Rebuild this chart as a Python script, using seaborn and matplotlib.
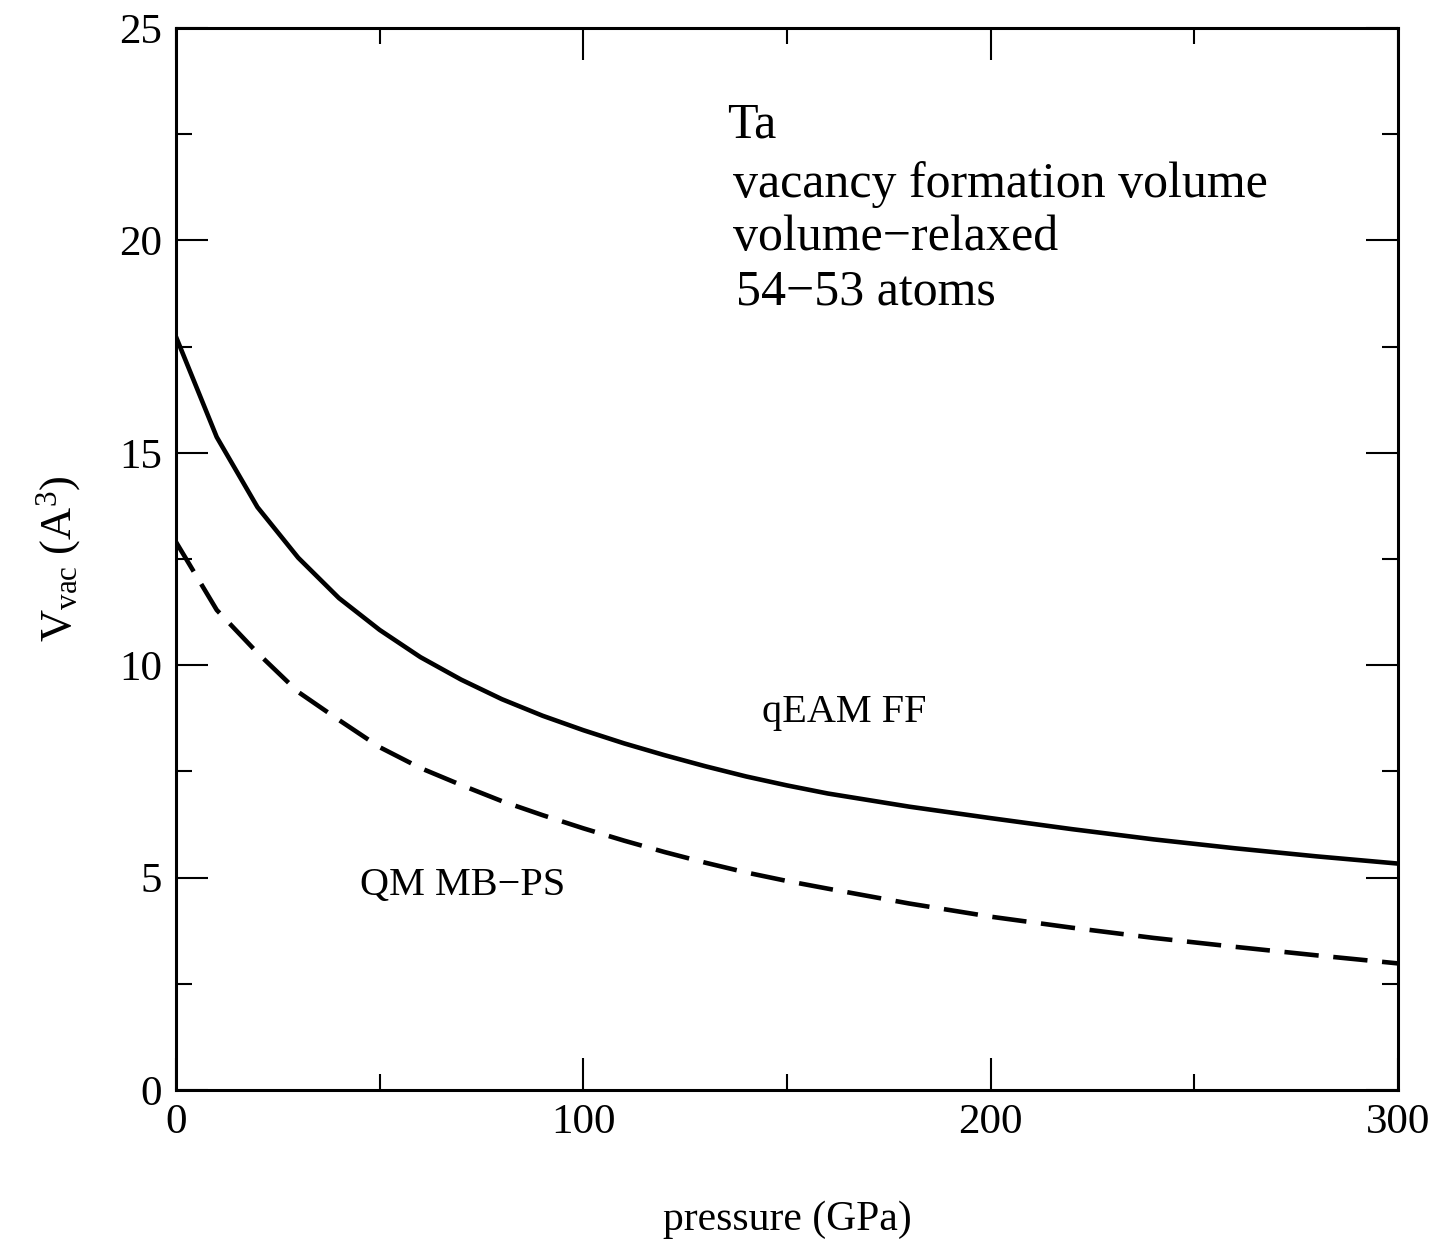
import numpy as np
import pandas as pd
import matplotlib
matplotlib.use("Agg")
import matplotlib.pyplot as plt
from matplotlib.ticker import MultipleLocator
import seaborn as sns

pressure_qeam = [0, 10, 20, 30, 40, 50, 60, 70, 80, 90, 100, 110, 120, 130, 140, 150,
                 160, 180, 200, 220, 240, 260, 280, 300]
v_qeam = [17.73, 15.37, 13.72, 12.53, 11.58, 10.83, 10.19, 9.66, 9.20, 8.81, 8.47, 8.16,
          7.88, 7.62, 7.38, 7.17, 6.98, 6.67, 6.40, 6.14, 5.90, 5.69, 5.50, 5.33]
pressure_qm = [0, 10, 20, 30, 40, 50, 60, 70, 80, 90, 100, 110, 120, 130, 140, 150,
               160, 180, 200, 220, 240, 260, 280, 300]
v_qm = [12.90, 11.30, 10.29, 9.37, 8.71, 8.07, 7.58, 7.18, 6.80, 6.47, 6.16, 5.87,
        5.60, 5.35, 5.12, 4.92, 4.74, 4.39, 4.08, 3.82, 3.58, 3.37, 3.17, 2.98]

info_lines = ["Ta", "vacancy formation volume", "volume\u2212relaxed", "54\u221253 atoms"]
label_qeam = "qEAM FF"
label_qm = "QM MB\u2212PS"

df = pd.concat([
    pd.DataFrame({"p": pressure_qeam, "v": v_qeam, "model": label_qeam}),
    pd.DataFrame({"p": pressure_qm, "v": v_qm, "model": label_qm}),
])

sns.set_style("ticks")
plt.rcParams["font.family"] = ["Liberation Serif", "DejaVu Serif"]
plt.rcParams["mathtext.fontset"] = "custom"
plt.rcParams["mathtext.rm"] = "Liberation Serif"
plt.rcParams["mathtext.it"] = "Liberation Serif:italic"
plt.rcParams["text.color"] = "black"
plt.rcParams["axes.labelcolor"] = "black"
plt.rcParams["xtick.color"] = "black"
plt.rcParams["ytick.color"] = "black"

fig = plt.figure(figsize=(14.54, 12.41), dpi=100)
ax = fig.add_axes([176/1454, 151/1241, 1222/1454, 1062/1241])

sns.lineplot(data=df, x="p", y="v", style="model", ax=ax, color="black",
             linewidth=3.3, legend=False, dashes={label_qeam: "", label_qm: (7.5, 3.2)},
             sort=False, estimator=None)

ax.set_xlim(0, 300)
ax.set_ylim(0, 25)
ax.xaxis.set_major_locator(MultipleLocator(100))
ax.xaxis.set_minor_locator(MultipleLocator(50))
ax.yaxis.set_major_locator(MultipleLocator(5))
ax.yaxis.set_minor_locator(MultipleLocator(2.5))
ax.tick_params(which="both", direction="in", top=True, right=True, width=1.5,
               labelsize=31, pad=10, colors="black")
ax.tick_params(which="major", length=23)
ax.tick_params(which="minor", length=11.5)
for s in ax.spines.values():
    s.set_linewidth(2.2)
    s.set_color("black")

ax.set_xlabel("pressure (GPa)", fontsize=30, labelpad=42, color="black")
ax.set_ylabel(r"V$_{\rm vac}$ (A$^{3}$)", fontsize=32, labelpad=26, color="black")

ys = [22.43, 21.02, 19.77, 18.48]
xs = [135.3, 136.8, 136.8, 137.5]
for t, x, y in zip(info_lines, xs, ys):
    ax.text(x, y, t, fontsize=36, ha="left", va="baseline", color="black")

ax.text(143.9, 8.66, label_qeam, fontsize=29, ha="left", va="baseline", color="black")
ax.text(45.2, 4.59, label_qm, fontsize=29, ha="left", va="baseline", color="black")

fig.savefig("out.png", dpi=100, facecolor="white")
